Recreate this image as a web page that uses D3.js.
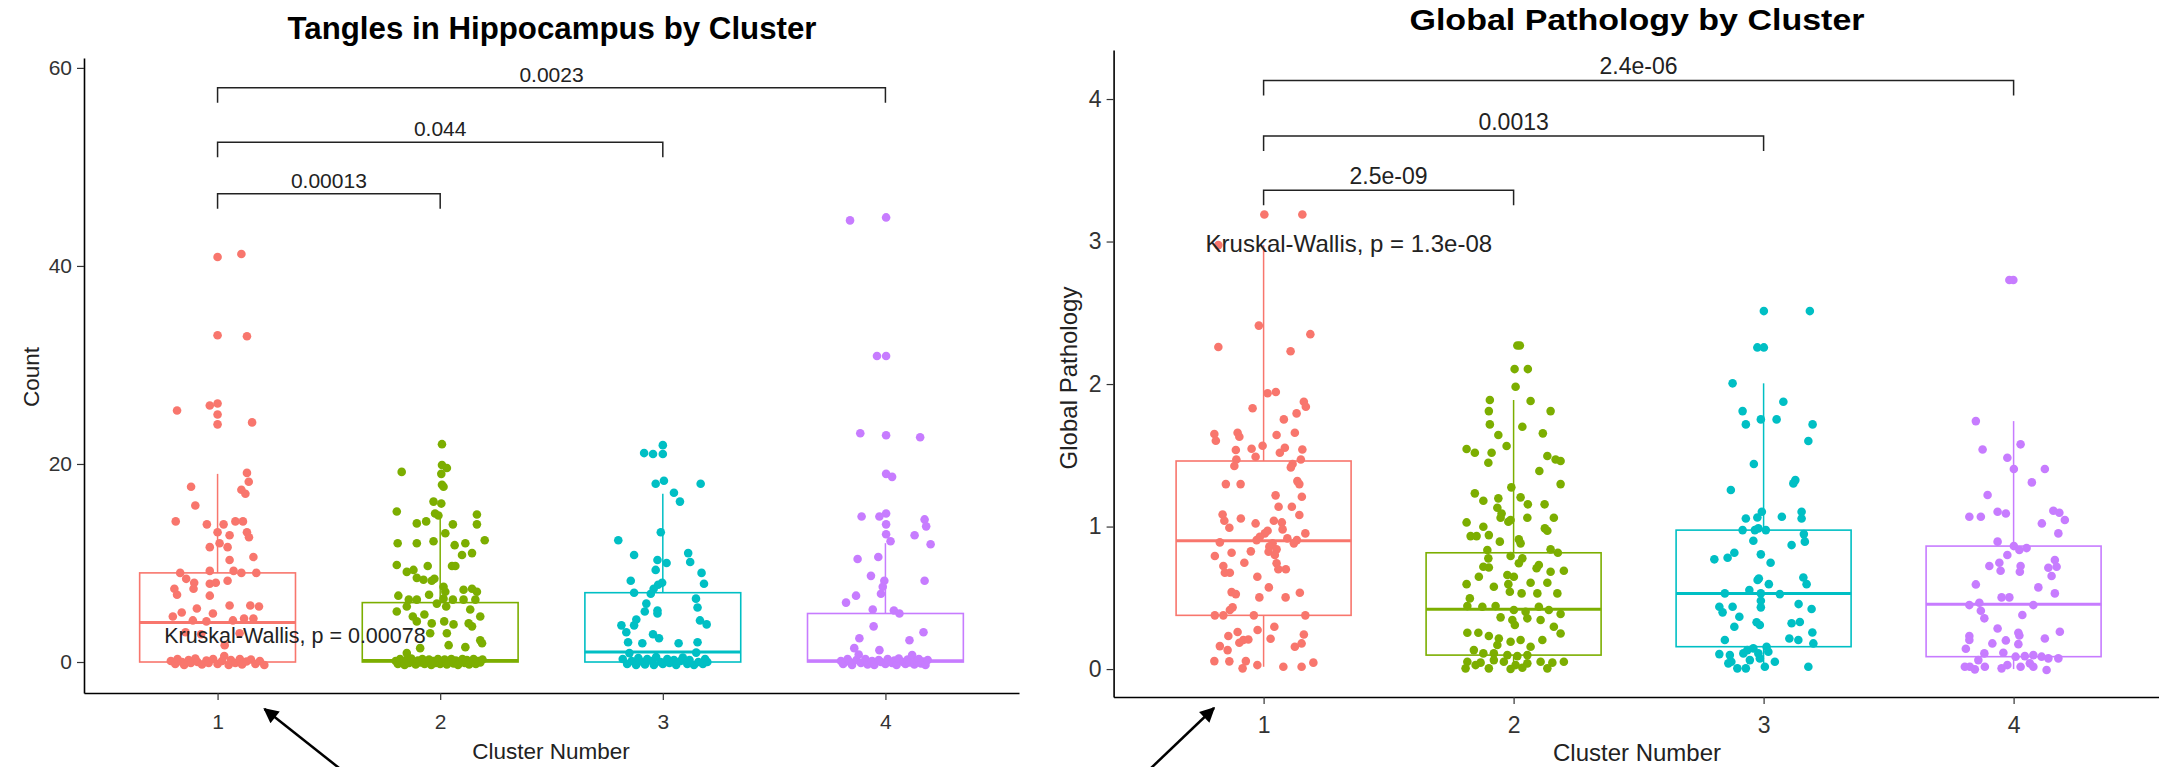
<!DOCTYPE html>
<html>
<head>
<meta charset="utf-8">
<script src="https://cdn.jsdelivr.net/npm/d3@7"></script>
<style>
  body { margin: 0; background: #fff; }
  text { font-family: "Liberation Sans", Arial, sans-serif; }
</style>
</head>
<body>
<svg id="chart" width="2159" height="767"></svg>
<script>
var clusters = [1, 2, 3, 4];
var colors = ["#F8766D", "#7CAE00", "#00BFC4", "#C77CFF"];

// ---- Tangles in Hippocampus: points are [jitter offset, count]
var tanglesC1 = [
  [0,40.9],[0.107,41.2],[0,33.0],[0.132,32.9],[-0.182,25.4],[-0.035,25.9],[0,26.1],[0,25.0],[0,24.0],[0.155,24.2],
  [0.132,19.1],[0.14,18.2],[-0.119,17.7],[0.107,17.4],[0.125,17.0],[-0.1,15.8],[-0.188,14.2],[-0.048,13.9],[0.027,13.9],[0.08,14.2],
  [0.114,14.2],[0,13.1],[0.054,12.8],[0.132,13.1],[0.141,12.6],[0.009,12.0],[-0.035,11.6],[0.045,11.6],[0.161,10.6],[0.054,10.3],
  [-0.168,9.0],[-0.035,9.2],[0.072,9.2],[0.107,9.0],[0.174,9.0],[-0.141,8.4],[-0.105,8.0],[-0.035,7.9],[-0.008,8.0],[0.045,8.2],
  [-0.194,7.4],[-0.182,6.8],[-0.108,7.4],[-0.035,6.7],[0.054,5.7],[-0.093,5.4],[0.147,5.7],[0.186,5.6],[-0.161,5.0],[-0.021,4.9],
  [-0.201,4.6],[-0.111,4.2],[-0.05,4.1],[0.069,4.2],[0.119,4.4],[0.161,4.4],[-0.144,3.0],[-0.074,2.8],[0.099,2.9],[0.032,1.7],
  [-0.21,0.1],[-0.19,-0.2],[-0.18,0.3],[-0.16,0.0],[-0.15,-0.3],[-0.13,0.2],[-0.12,-0.1],[-0.1,0.35],[-0.09,0.0],[-0.07,-0.25],
  [-0.05,0.15],[-0.04,-0.1],[-0.02,0.3],[0.0,-0.2],[0.02,0.1],[0.03,0.6],[0.05,-0.3],[0.06,0.2],[0.08,-0.1],[0.1,0.3],
  [0.11,-0.25],[0.13,0.05],[0.15,0.25],[0.17,-0.2],[0.19,0.1],[0.21,-0.3]
];
var tanglesC2 = [
  [0.008,22.0],[0.008,19.9],[0.03,19.6],[-0.173,19.2],[0.005,19.0],[0.008,17.9],[0.015,17.7],[-0.03,16.2],[0.005,16.0],[-0.195,15.2],
  [-0.023,15.0],[-0.008,14.8],[0.165,14.9],[-0.105,14.0],[-0.063,14.2],[0.057,13.9],[0.165,13.9],[0.023,13.0],[-0.191,12.0],[-0.105,12.0],
  [-0.03,12.2],[0.065,11.8],[0.113,12.0],[0.2,12.3],[0.098,10.8],[0.143,11.0],[-0.195,9.8],[-0.15,9.1],[-0.12,9.3],[-0.056,9.7],
  [0.053,9.7],[0.068,9.7],[-0.105,8.5],[-0.075,8.3],[-0.038,8.2],[-0.026,8.4],[0.015,7.6],[0.023,7.1],[0.105,7.3],[0.143,7.4],
  [0.165,7.1],[-0.188,6.7],[-0.141,6.3],[-0.105,6.3],[-0.05,6.8],[0.015,6.4],[0.057,6.3],[0.105,6.3],[0.158,6.3],[-0.15,5.6],
  [-0.015,5.9],[0.027,5.6],[0.135,5.3],[-0.195,5.1],[-0.123,4.6],[-0.071,4.8],[0.18,4.6],[-0.105,4.1],[-0.038,3.9],[0.018,4.1],
  [0.06,3.8],[0.128,3.9],[0.03,2.9],[-0.045,2.9],[0.143,3.6],[0.18,2.2],[0.038,1.7],[0.188,1.9],[0.113,1.5],[-0.09,1.4],[-0.15,0.9],
  [-0.2,0.1],[-0.19,-0.2],[-0.18,0.3],[-0.17,0.0],[-0.16,-0.3],[-0.15,0.2],[-0.14,-0.1],[-0.13,0.35],[-0.12,0.0],[-0.11,-0.25],
  [-0.1,0.15],[-0.09,-0.05],[-0.08,0.3],[-0.07,-0.2],[-0.06,0.05],[-0.05,0.25],[-0.04,-0.3],[-0.03,0.1],[-0.02,-0.1],[-0.01,0.3],
  [0.0,-0.2],[0.01,0.05],[0.02,0.25],[0.03,-0.25],[0.04,0.0],[0.05,0.3],[0.06,-0.15],[0.07,0.15],[0.08,-0.3],[0.09,0.05],
  [0.1,0.3],[0.11,-0.1],[0.12,0.2],[0.13,-0.25],[0.14,0.0],[0.15,0.3],[0.16,-0.2],[0.17,0.1],[0.18,-0.05],[0.19,0.25]
];
var tanglesC3 = [
  [0,21.9],[0,21.0],[-0.084,21.1],[-0.044,21.0],[-0.032,18.0],[0.005,18.3],[0.17,18.0],[0.05,17.1],[0.077,16.2],[-0.009,13.1],
  [-0.2,12.3],[-0.129,10.8],[0.114,11.0],[0.123,10.1],[-0.024,10.3],[0.017,10.0],[-0.032,9.3],[0.174,9.0],[0.185,7.9],[-0.144,8.2],
  [-0.129,7.0],[-0.003,8.0],[-0.021,7.8],[-0.041,7.4],[-0.054,6.9],[0.149,6.4],[0.156,5.5],[-0.074,5.9],[-0.081,5.1],[-0.024,5.2],
  [-0.024,4.9],[-0.119,4.3],[-0.129,3.7],[0.167,4.2],[0.197,3.8],[-0.186,3.7],[-0.164,3.0],[-0.044,2.8],[-0.017,2.4],[-0.156,2.0],
  [-0.092,1.9],[0.071,1.9],[0.156,2.0],
  [-0.18,0.3],[-0.16,-0.2],[-0.15,0.9],[-0.14,0.1],[-0.12,-0.3],[-0.11,0.4],[-0.09,0.0],[-0.08,-0.25],[-0.07,0.3],[-0.05,0.1],
  [-0.04,-0.3],[-0.03,0.5],[-0.01,0.0],[0.0,-0.2],[0.02,0.3],[0.03,-0.1],[0.05,0.2],[0.06,-0.3],[0.08,0.1],[0.09,0.45],
  [0.11,-0.2],[0.12,0.2],[0.14,-0.3],[0.15,0.95],[0.16,0.0],[0.18,-0.2],[0.19,0.3],[0.2,0.0]
];
var tanglesC4 = [
  [-0.159,44.6],[0.003,44.9],[-0.038,30.9],[0.003,30.9],[-0.113,23.1],[0.003,22.9],[0.156,22.7],[0.003,19.0],[0.03,18.7],[-0.107,14.7],
  [-0.027,14.7],[0.003,15.0],[0.003,13.9],[0.003,12.9],[0.176,14.4],[0.183,13.7],[0.131,12.8],[0.023,12.2],[0.203,11.9],[-0.125,10.4],
  [-0.032,10.6],[-0.065,8.7],[-0.005,8.2],[-0.012,7.6],[-0.02,6.9],[0.176,8.2],[-0.177,6.0],[-0.132,6.7],[-0.057,5.3],[0.038,5.2],
  [0.063,4.9],[-0.053,3.6],[0.171,3.0],[-0.117,2.4],[0.108,2.2],[-0.14,1.4],[-0.027,1.2],
  [-0.2,0.1],[-0.19,-0.2],[-0.17,0.3],[-0.16,0.0],[-0.15,-0.3],[-0.13,0.2],[-0.12,0.75],[-0.11,-0.1],[-0.09,0.3],[-0.08,-0.25],
  [-0.06,0.1],[-0.05,-0.3],[-0.03,0.2],[-0.02,0.0],[0.0,-0.2],[0.01,0.3],[0.03,-0.1],[0.04,0.15],[0.05,-0.3],[0.06,0.35],
  [0.08,0.0],[0.09,-0.2],[0.1,0.25],[0.11,-0.05],[0.12,0.7],[0.13,-0.25],[0.14,0.1],[0.15,0.3],[0.16,-0.15],[0.17,0.05],
  [0.18,-0.3],[0.19,0.2]
];
var tanglesQ1 = [0, 0, 0, 0];
var tanglesMedian = [4.0, 0.15, 1.0, 0.13];
var tanglesQ3 = [9.0, 6.0, 7.0, 4.9];
var tanglesLow = [0, 0, 0, 0];
var tanglesHigh = [19.0, 15.0, 17.0, 12.0];
var tanglesTicks = [0, 20, 40, 60];
// pairwise comparisons: [from, to, label, bracket height]
var tanglesPairs = [[1, 2, "0.00013", 47.3], [1, 3, "0.044", 52.5], [1, 4, "0.0023", 58.0]];
var tanglesTest = "Kruskal-Wallis, p = 0.00078";

// ---- Global Pathology: points are [jitter offset, score]
var globalC1 = [
  [0.003,3.19],[0.155,3.19],[-0.181,2.975],[-0.019,2.41],[0.187,2.35],[-0.181,2.26],[0.108,2.23],[0.016,1.935],[0.049,1.944],[-0.044,1.83],
  [0.161,1.876],[0.169,1.841],[0.132,1.794],[0.081,1.752],[-0.197,1.649],[-0.191,1.602],[-0.104,1.658],[-0.097,1.63],[0.052,1.642],[0.125,1.658],
  [-0.111,1.537],[-0.048,1.546],[-0.004,1.567],[-0.032,1.49],[0.085,1.553],[0.065,1.518],[0.155,1.541],[0.149,1.471],[0.116,1.439],[0.109,1.415],
  [-0.117,1.425],[-0.109,1.471],[-0.151,1.298],[-0.092,1.298],[0.135,1.319],[0.143,1.298],[0.048,1.219],[0.153,1.209],[0.06,1.139],[0.113,1.139],
  [-0.164,1.085],[-0.157,1.041],[-0.137,0.992],[-0.091,1.057],[-0.032,1.022],[0.041,1.041],[0.073,1.029],[0.076,0.98],[0.143,1.081],[0.016,0.971],
  [0.005,0.952],[0.167,0.952],[0.133,0.905],[0.121,0.882],[-0.175,0.889],[-0.028,0.905],[-0.015,0.929],[0.095,0.917],[0.023,0.859],[0.036,0.882],
  [0.052,0.84],[0.02,0.823],[0.045,0.8],[-0.195,0.793],[-0.128,0.816],[-0.051,0.826],[-0.077,0.746],[-0.161,0.723],[-0.155,0.676],[-0.135,0.676],
  [0.052,0.742],[0.089,0.7],[0.059,0.7],[-0.025,0.648],[0.021,0.573],[-0.128,0.54],[-0.111,0.526],[-0.017,0.503],[0.088,0.503],[0.145,0.536],
  [-0.124,0.433],[-0.135,0.414],[-0.195,0.377],[-0.161,0.377],[-0.039,0.377],[0.167,0.377],[0.043,0.297],[-0.024,0.274],[-0.104,0.26],[-0.141,0.232],
  [-0.081,0.204],[-0.097,0.185],[-0.061,0.208],[-0.175,0.161],[-0.144,0.133],[0.028,0.213],[0.161,0.243],[0.152,0.18],[0.125,0.157],[-0.197,0.056],
  [-0.137,0.054],[-0.071,0.056],[-0.025,0.028],[0.079,0.016],[0.152,0.016],[0.199,0.045],[-0.084,0.005]
];
var globalC2 = [
  [0.015,2.27],[0.025,2.27],[0.004,2.105],[0.057,2.105],[0.008,1.981],[-0.095,1.888],[0.068,1.881],[0.148,1.81],[-0.099,1.81],[-0.095,1.717],
  [0.035,1.7],[-0.061,1.642],[0.117,1.654],[-0.028,1.565],[-0.188,1.544],[-0.155,1.518],[-0.088,1.518],[-0.101,1.448],[0.135,1.495],[0.168,1.471],
  [0.188,1.46],[0.103,1.39],[0.188,1.298],[-0.009,1.275],[-0.155,1.233],[-0.121,1.181],[-0.061,1.198],[0.028,1.205],[0.057,1.156],[0.124,1.156],
  [-0.065,1.132],[-0.048,1.092],[-0.052,1.062],[0.055,1.062],[0.161,1.062],[-0.188,1.029],[-0.121,0.999],[-0.021,1.034],[-0.012,1.046],[0.125,0.987],
  [0.135,0.971],[-0.172,0.933],[-0.148,0.933],[-0.099,0.94],[-0.055,0.894],[0.021,0.91],[0.028,0.882],[-0.105,0.835],[0.148,0.84],[0.177,0.816],
  [-0.012,0.793],[-0.101,0.777],[0.035,0.777],[0.021,0.742],[0.101,0.73],[0.092,0.707],[0.148,0.683],[0.201,0.69],[-0.099,0.713],[-0.121,0.718],
  [-0.188,0.596],[-0.139,0.648],[-0.025,0.66],[0.001,0.648],[-0.079,0.578],[-0.021,0.596],[0.068,0.606],[0.135,0.606],[0.095,0.531],[0.175,0.531],
  [0.032,0.531],[-0.015,0.543],[-0.175,0.496],[-0.185,0.442],[-0.125,0.437],[-0.072,0.442],[0.001,0.414],[0.048,0.402],[0.101,0.437],[0.141,0.414],
  [0.188,0.386],[-0.052,0.363],[-0.005,0.344],[0.055,0.356],[0.108,0.344],[0.161,0.297],[0.005,0.309],[-0.185,0.255],[-0.141,0.255],[-0.099,0.232],
  [-0.059,0.215],[-0.012,0.192],[-0.065,0.169],[0.028,0.204],[0.068,0.157],[0.115,0.204],[0.188,0.25],[-0.159,0.133],[-0.121,0.11],[-0.079,0.11],
  [-0.025,0.098],[0.015,0.091],[0.055,0.098],[-0.185,0.051],[-0.132,0.045],[-0.079,0.063],[-0.039,0.051],[0.008,0.028],[0.055,0.04],[0.108,0.051],
  [0.155,0.045],[0.201,0.051],[-0.192,0.005],[-0.099,0.005],[-0.012,0.0],[0.035,0.009],[0.135,0.005],[-0.152,0.028]
];
var globalC3 = [
  [0.001,2.512],[0.185,2.512],[-0.025,2.257],[0.001,2.257],[-0.124,2.005],[0.079,1.876],[-0.084,1.81],[-0.071,1.717],[-0.011,1.752],[0.052,1.752],
  [0.196,1.717],[0.179,1.6],[-0.039,1.439],[-0.131,1.256],[0.119,1.303],[0.127,1.326],[-0.071,1.057],[-0.025,1.064],[-0.007,1.104],[0.073,1.069],
  [0.152,1.104],[0.152,1.057],[-0.084,0.975],[-0.035,0.975],[0.009,0.975],[-0.021,0.987],[-0.041,0.9],[0.112,0.87],[0.161,0.947],[0.165,0.894],
  [-0.197,0.77],[-0.144,0.781],[-0.117,0.816],[-0.011,0.805],[0.028,0.746],[-0.024,0.625],[-0.019,0.636],[0.021,0.596],[0.159,0.643],[0.172,0.596],
  [-0.155,0.531],[-0.057,0.554],[-0.011,0.531],[0.065,0.526],[-0.011,0.479],[-0.011,0.433],[-0.177,0.437],[-0.164,0.398],[-0.124,0.437],[-0.097,0.367],
  [0.14,0.456],[0.192,0.421],[-0.028,0.328],[-0.015,0.309],[-0.117,0.297],[0.112,0.321],[0.145,0.33],[0.195,0.257],[-0.155,0.204],[0.103,0.215],
  [0.139,0.204],[0.199,0.18],[-0.177,0.105],[-0.135,0.098],[-0.129,0.051],[-0.141,0.04],[-0.081,0.11],[-0.065,0.133],[-0.041,0.145],[-0.021,0.11],
  [0.012,0.157],[0.019,0.122],[0.045,0.051],[0.005,0.016],[-0.105,0.005],[-0.071,0.005],[0.179,0.016],[-0.055,0.063],[-0.015,0.075]
];
var globalC4 = [
  [-0.017,2.73],[-0.001,2.73],[-0.151,1.74],[0.028,1.577],[-0.124,1.541],[-0.025,1.483],[0.001,1.404],[0.125,1.404],[0.073,1.31],[-0.104,1.221],
  [-0.177,1.069],[-0.131,1.069],[-0.064,1.104],[-0.031,1.092],[0.159,1.111],[0.183,1.097],[0.205,1.046],[0.113,1.022],[0.179,0.952],[-0.064,0.894],
  [0.001,0.863],[0.023,0.835],[0.052,0.849],[-0.025,0.8],[-0.057,0.746],[-0.097,0.723],[-0.052,0.69],[0.028,0.723],[0.025,0.683],[0.165,0.765],
  [0.172,0.718],[0.139,0.711],[0.152,0.653],[-0.151,0.594],[0.099,0.573],[0.165,0.531],[-0.048,0.503],[-0.017,0.503],[-0.177,0.449],[-0.137,0.465],
  [0.079,0.449],[-0.131,0.409],[-0.117,0.356],[0.035,0.379],[-0.064,0.285],[-0.177,0.232],[-0.177,0.204],[0.019,0.255],[0.023,0.236],[0.185,0.262],
  [0.125,0.215],[-0.085,0.18],[-0.031,0.201],[0.019,0.175],[-0.191,0.143],[-0.117,0.11],[-0.041,0.115],[0.008,0.087],[0.045,0.091],[0.079,0.098],
  [0.112,0.087],[0.139,0.075],[0.179,0.075],[-0.141,0.063],[-0.175,0.016],[-0.195,0.016],[-0.115,0.016],[-0.048,0.005],[-0.025,0.028],[0.028,0.016],
  [0.065,0.04],[0.079,0.016],[0.132,-0.007],[-0.155,-0.002]
];
var globalQ1 = [0.377, 0.098, 0.157, 0.087];
var globalMedian = [0.90, 0.419, 0.531, 0.454];
var globalQ3 = [1.46, 0.816, 0.975, 0.863];
var globalLow = [0.016, 0, 0.005, 0];
var globalHigh = [2.975, 1.888, 2.005, 1.74];
var globalTicks = [0, 1, 2, 3, 4];
var globalPairs = [[1, 2, "2.5e-09", 3.36], [1, 3, "0.0013", 3.74], [1, 4, "2.4e-06", 4.13]];
var globalTest = "Kruskal-Wallis, p = 1.3e-08";

var svg = d3.select("#chart");

svg.append("defs").append("marker")
    .attr("id", "head")
    .attr("viewBox", "0 0 10 10")
    .attr("refX", 9).attr("refY", 5)
    .attr("markerWidth", 7).attr("markerHeight", 6)
    .attr("markerUnits", "strokeWidth")
    .attr("orient", "auto")
  .append("path")
    .attr("d", "M0,0 L10,5 L0,10 z")
    .attr("fill", "#000");

function drawPanel(p) {
  var g = svg.append("g");
  var x = d3.scaleLinear().domain([0.4, 4.6]).range([p.left, p.right]);
  var y = d3.scaleLinear().domain(p.yDomain).range([p.bottom, p.top]);
  var half = 0.35;

  // boxes
  clusters.forEach(function(c, i) {
    var col = colors[i];
    var bg = g.append("g");
    bg.append("line")
        .attr("x1", x(c)).attr("x2", x(c))
        .attr("y1", y(p.high[i])).attr("y2", y(p.q3[i]))
        .attr("stroke", col).attr("stroke-width", 1.5);
    bg.append("line")
        .attr("x1", x(c)).attr("x2", x(c))
        .attr("y1", y(p.q1[i])).attr("y2", y(p.low[i]))
        .attr("stroke", col).attr("stroke-width", 1.5);
    bg.append("rect")
        .attr("x", x(c - half)).attr("width", x(c + half) - x(c - half))
        .attr("y", y(p.q3[i])).attr("height", y(p.q1[i]) - y(p.q3[i]))
        .attr("fill", "none").attr("stroke", col).attr("stroke-width", 1.6);
    bg.append("line")
        .attr("x1", x(c - half)).attr("x2", x(c + half))
        .attr("y1", y(p.median[i])).attr("y2", y(p.median[i]))
        .attr("stroke", col).attr("stroke-width", 3);
  });

  // jittered points
  p.points.forEach(function(pts, i) {
    g.append("g").selectAll("circle")
      .data(pts)
      .enter().append("circle")
        .attr("cx", function(d) { return x(clusters[i] + d[0]); })
        .attr("cy", function(d) { return y(d[1]); })
        .attr("r", 4.3)
        .attr("fill", colors[i]);
  });

  // axes
  var yAxis = g.append("g")
      .attr("transform", "translate(" + p.left + ",0)")
      .call(d3.axisLeft(y).tickValues(p.ticks).tickFormat(d3.format("d"))
        .tickSize(7).tickSizeOuter(0).tickPadding(5));
  var xAxis = g.append("g")
      .attr("transform", "translate(0," + p.bottom + ")")
      .call(d3.axisBottom(x).tickValues(clusters).tickFormat(d3.format("d"))
        .tickSize(7).tickSizeOuter(0).tickPadding(p.xPad));
  [yAxis, xAxis].forEach(function(a) {
    a.select(".domain").attr("stroke", "#000").attr("stroke-width", 1.6);
    a.selectAll(".tick line").attr("stroke", "#333").attr("stroke-width", 1.2);
    a.selectAll(".tick text")
        .attr("fill", "#333")
        .style("font-size", p.tickFont + "px")
        .style("font-family", "'Liberation Sans', Arial, sans-serif");
  });

  // significance brackets
  p.pairs.forEach(function(d) {
    var yb = y(d[3]);
    g.append("path")
        .attr("d", "M" + x(d[0]) + "," + (yb + p.drop) + "V" + yb + "H" + x(d[1]) + "V" + (yb + p.drop))
        .attr("fill", "none").attr("stroke", "#222").attr("stroke-width", 1.5);
    g.append("text")
        .attr("x", (x(d[0]) + x(d[1])) / 2)
        .attr("y", yb - 6)
        .attr("text-anchor", "middle")
        .attr("fill", "#222")
        .style("font-size", p.labelFont + "px")
        .text(d[2]);
  });

  g.append("text")
      .attr("x", x(p.testAt[0]))
      .attr("y", y(p.testAt[1]))
      .attr("fill", "#222")
      .style("font-size", p.testFont + "px")
      .text(p.test);

  g.append("text")
      .attr("x", p.titleX).attr("y", p.titleY)
      .attr("text-anchor", "middle")
      .attr("fill", "#000")
      .attr("textLength", p.titleWidth)
      .attr("lengthAdjust", "spacingAndGlyphs")
      .style("font-size", p.titleFont + "px")
      .style("font-weight", "bold")
      .text(p.title);

  g.append("text")
      .attr("x", p.xTitleX).attr("y", p.xTitleY)
      .attr("text-anchor", "middle")
      .attr("fill", "#222")
      .style("font-size", p.axisFont + "px")
      .text("Cluster Number");

  g.append("text")
      .attr("transform", "translate(" + p.yTitleX + "," + p.yTitleY + ") rotate(-90)")
      .attr("text-anchor", "middle")
      .attr("fill", "#222")
      .style("font-size", p.axisFont + "px")
      .text(p.yTitle);
}

drawPanel({
  left: 84, right: 1019, top: 58, bottom: 693,
  yDomain: [-3.13, 61.0],
  ticks: tanglesTicks,
  points: [tanglesC1, tanglesC2, tanglesC3, tanglesC4],
  q1: tanglesQ1, median: tanglesMedian, q3: tanglesQ3, low: tanglesLow, high: tanglesHigh,
  pairs: tanglesPairs, drop: 15,
  test: tanglesTest, testAt: [0.76, 1.9],
  title: "Tangles in Hippocampus by Cluster", titleX: 552, titleY: 39, titleFont: 31, titleWidth: 529,
  yTitle: "Count", yTitleX: 39, yTitleY: 377,
  xTitleX: 551, xTitleY: 759,
  tickFont: 21, labelFont: 21, testFont: 21.5, axisFont: 22.5, xPad: 14
});

drawPanel({
  left: 1113.6, right: 2163.6, top: 50, bottom: 697,
  yDomain: [-0.196, 4.344],
  ticks: globalTicks,
  points: [globalC1, globalC2, globalC3, globalC4],
  q1: globalQ1, median: globalMedian, q3: globalQ3, low: globalLow, high: globalHigh,
  pairs: globalPairs, drop: 15,
  test: globalTest, testAt: [0.768, 2.93],
  title: "Global Pathology by Cluster", titleX: 1637, titleY: 30, titleFont: 30, titleWidth: 455,
  yTitle: "Global Pathology", yTitleX: 1077, yTitleY: 378,
  xTitleX: 1637, xTitleY: 761,
  tickFont: 23, labelFont: 23, testFont: 24, axisFont: 24, xPad: 13
});

// pointer arrows drawn under the x axes
var arrows = [[341.6, 770, 264.5, 709], [1149, 770, 1214, 708]];
svg.append("g").selectAll("line")
  .data(arrows)
  .enter().append("line")
    .attr("x1", function(d) { return d[0]; })
    .attr("y1", function(d) { return d[1]; })
    .attr("x2", function(d) { return d[2]; })
    .attr("y2", function(d) { return d[3]; })
    .attr("stroke", "#000")
    .attr("stroke-width", 2.5)
    .attr("marker-end", "url(#head)");
</script>
</body>
</html>
